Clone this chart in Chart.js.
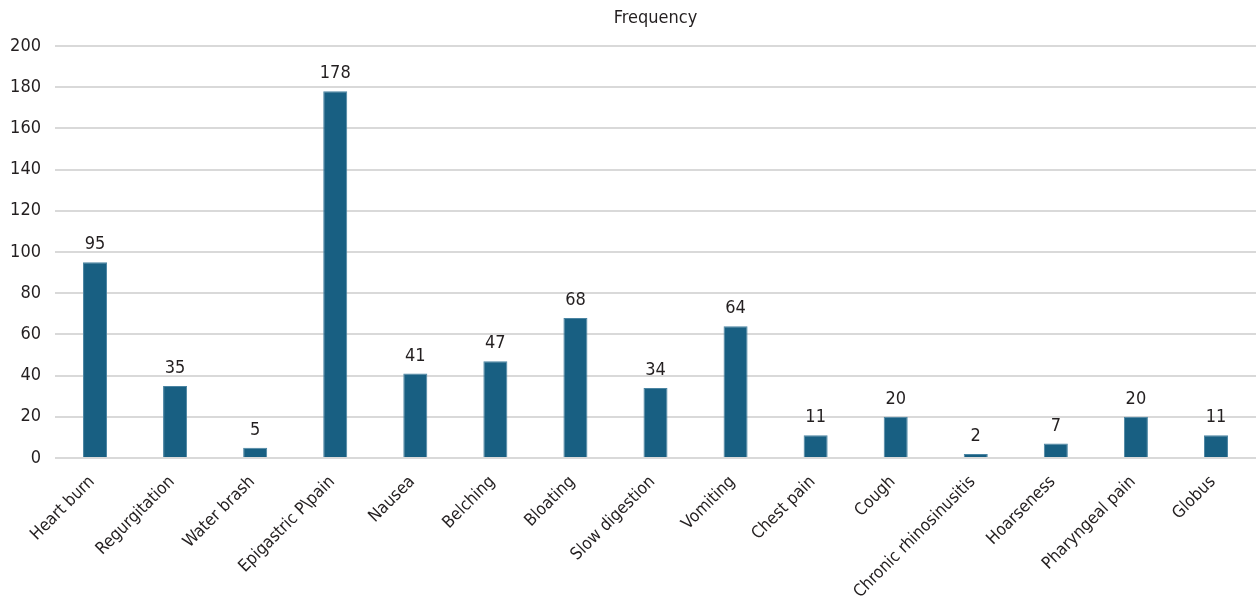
<!DOCTYPE html>
<html>
<head>
<meta charset="utf-8">
<script src="https://cdn.jsdelivr.net/npm/chart.js@4.4.1/dist/chart.umd.min.js"></script>
<style>
  html, body { margin: 0; padding: 0; background: #ffffff; }
  #wrap { width: 1256px; height: 602px; position: relative; }
</style>
</head>
<body>
<div id="wrap"><canvas id="chart"></canvas></div>
<script>
const categories = [
  "Heart burn", "Regurgitation", "Water brash", "Epigastric P\\pain", "Nausea",
  "Belching", "Bloating", "Slow digestion", "Vomiting", "Chest pain",
  "Cough", "Chronic rhinosinusitis", "Hoarseness", "Pharyngeal pain", "Globus"
];
const frequency = [95, 35, 5, 178, 41, 47, 68, 34, 64, 11, 20, 2, 7, 20, 11];
const yTicks = [0, 20, 40, 60, 80, 100, 120, 140, 160, 180, 200];
const chartTitle = 'Frequency';

const FONT = "'DejaVu Sans Condensed', 'DejaVu Sans', sans-serif";
const TEXT = '#231f20';

// title centred over the plot area, plus each bar's value just above it
const annotations = {
  id: 'annotations',
  afterDatasetsDraw(chart) {
    const ctx = chart.ctx;
    const area = chart.chartArea;
    const meta = chart.getDatasetMeta(0);
    ctx.save();
    ctx.fillStyle = TEXT;
    ctx.textAlign = 'center';
    ctx.textBaseline = 'alphabetic';
    ctx.font = '18px ' + FONT;
    ctx.fillText(chartTitle, (area.left + area.right) / 2, 23);
    meta.data.forEach((bar, i) => {
      ctx.fillText(String(chart.data.datasets[0].data[i]), bar.x, bar.y - 13);
    });
    ctx.restore();
  }
};

new Chart(document.getElementById('chart'), {
  type: 'bar',
  data: {
    labels: categories,
    datasets: [{
      label: chartTitle,
      data: frequency,
      backgroundColor: '#185f82',
      borderColor: '#4a84a2',
      borderWidth: 1,
      barPercentage: 0.6,
      categoryPercentage: 0.5
    }]
  },
  options: {
    responsive: true,
    maintainAspectRatio: false,
    animation: false,
    layout: { padding: { left: 0, right: 0, top: 46, bottom: 0 } },
    plugins: {
      legend: { display: false },
      tooltip: { enabled: false },
      title: { display: false }
    },
    scales: {
      x: {
        grid: { display: false },
        border: { display: false },
        ticks: {
          color: TEXT,
          font: { family: FONT, size: 17 },
          minRotation: 45,
          maxRotation: 45,
          autoSkip: false,
          padding: 6,
          labelOffset: -3
        },
        afterFit(scale) { scale.height = 144; }
      },
      y: {
        min: 0,
        max: 200,
        afterBuildTicks(scale) { scale.ticks = yTicks.map(v => ({ value: v })); },
        grid: { color: '#d9d9d9', lineWidth: 2, drawTicks: false },
        border: { display: false },
        ticks: {
          color: TEXT,
          font: { family: FONT, size: 18 },
          padding: 14
        },
        afterFit(scale) { scale.width = 55; }
      }
    }
  },
  plugins: [annotations]
});
</script>
</body>
</html>
